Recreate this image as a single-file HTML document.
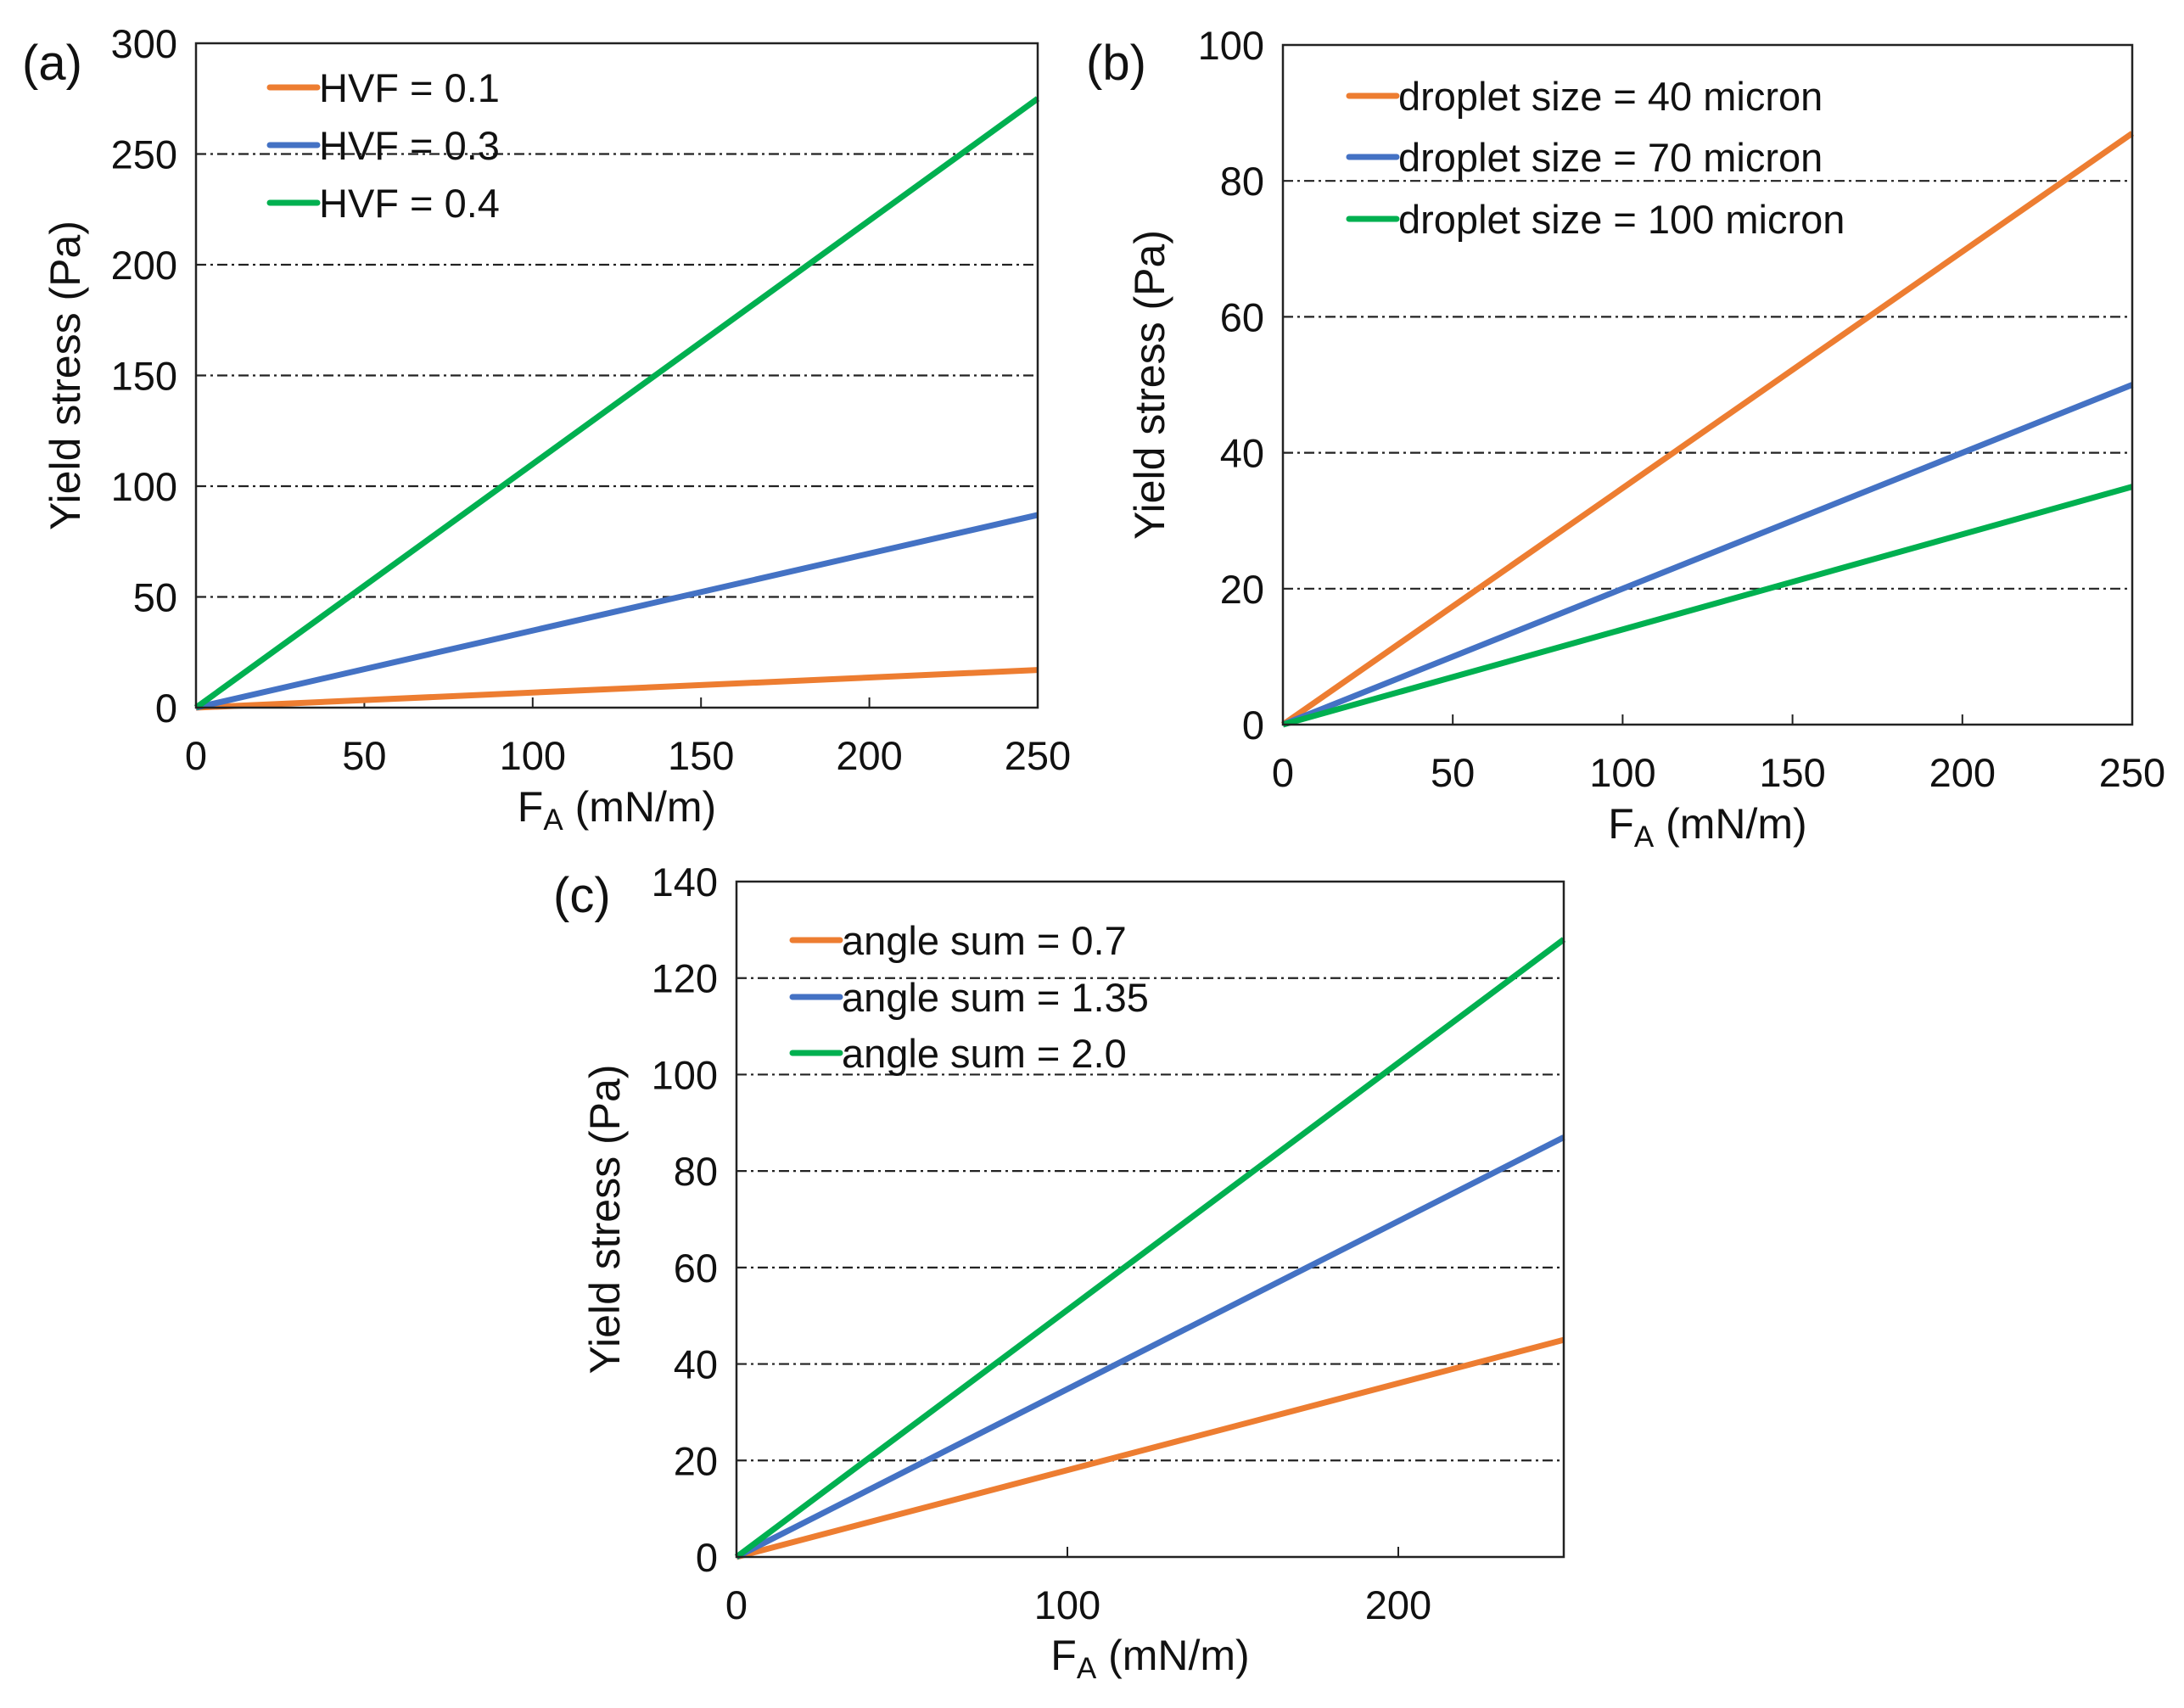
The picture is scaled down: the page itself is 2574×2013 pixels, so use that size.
<!DOCTYPE html>
<html><head><meta charset="utf-8"><style>
html,body{margin:0;padding:0;background:#fff;}
svg{display:block;font-family:"Liberation Sans",Arial,sans-serif;}
</style></head><body>
<svg id="fig" width="2574" height="2013" viewBox="0 0 2574 2013" xmlns="http://www.w3.org/2000/svg"></svg>
<script>
const NS="http://www.w3.org/2000/svg";
const svg=document.getElementById('fig');
const colors=["#ED7D31","#4472C4","#00B050"];

// Panel (a)
const aXRange=[0,250];
const aYTicks=[0,50,100,150,200,250,300];
const aXTicks=[0,50,100,150,200,250];
const aLegend=["HVF = 0.1","HVF = 0.3","HVF = 0.4"];
const aEnds=[17,87,275];
// Panel (b)
const bXRange=[0,250];
const bYTicks=[0,20,40,60,80,100];
const bXTicks=[0,50,100,150,200,250];
const bLegend=["droplet size = 40 micron","droplet size = 70 micron","droplet size = 100 micron"];
const bEnds=[87,50,35];
// Panel (c)
const cXRange=[0,250];
const cYTicks=[0,20,40,60,80,100,120,140];
const cXTicks=[0,100,200];
const cLegend=["angle sum = 0.7","angle sum = 1.35","angle sum = 2.0"];
const cEnds=[45,87,128];

function mk(tag,attrs,parent){const e=document.createElementNS(NS,tag);for(const k in attrs)e.setAttribute(k,attrs[k]);(parent||svg).appendChild(e);return e;}

function panel(id,box,xr,yt,xt,legend,ends,lab,leg,titles){
  const g=mk('g',{});
  
  
  const ymin=yt[0],ymax=yt[yt.length-1];
  const X=v=>box.l+(v-xr[0])/(xr[1]-xr[0])*(box.r-box.l);
  const Y=v=>box.b-(v-ymin)/(ymax-ymin)*(box.b-box.t);
  yt.forEach(v=>{
    if(v!==ymin&&v!==ymax){
      const gl=mk('line',{x1:box.l,x2:box.r,y1:Y(v),y2:Y(v),stroke:'#222','stroke-width':2.2,'stroke-dasharray':'12 5 3 5'},g);
      
      
    }
    const t=mk('text',{x:box.l-22,y:Y(v)+17,'text-anchor':'end','font-size':47,fill:'#111'},g);
    
    
    t.textContent=v;
  });
  xt.forEach(v=>{
    mk('line',{x1:X(v),x2:X(v),y1:box.b,y2:box.b-12,stroke:'#222','stroke-width':2},g);
    const t=mk('text',{x:X(v),y:box.b+73,'text-anchor':'middle','font-size':47,fill:'#111'},g);
    
    
    t.textContent=v;
  });
  ends.forEach((e,i)=>{
    const ln=mk('line',{x1:X(0),y1:Y(0),x2:X(xr[1]),y2:Y(e),stroke:colors[i],'stroke-width':7},g);
    
    
  });
  const fr=mk('rect',{x:box.l,y:box.t,width:box.r-box.l,height:box.b-box.t,fill:'none',stroke:'#222','stroke-width':2.5},g);
  
  
  legend.forEach((s,i)=>{
    const y=leg.y[i];
    const lg=mk('g',{},g);
    
    
    mk('line',{x1:leg.x,x2:leg.x+56,y1:y,y2:y,stroke:colors[i],'stroke-width':7,'stroke-linecap':'round'},lg);
    const t=mk('text',{x:leg.x+58,y:y+17,'font-size':47,fill:'#111'},lg);
    t.textContent=s;
  });
  const pl=mk('text',{x:lab.x,y:lab.y,'font-size':58,fill:'#111'},g);
  
  
  pl.textContent='('+id+')';
  const yt2=mk('text',{transform:`translate(${titles.yx},${(box.t+box.b)/2}) rotate(-90)`,'text-anchor':'middle','font-size':50,fill:'#111'},g);
  
  
  yt2.textContent='Yield stress (Pa)';
  const xt2=mk('text',{x:(box.l+box.r)/2,y:titles.xy,'text-anchor':'middle','font-size':50,fill:'#111'},g);
  
  
  xt2.innerHTML='F<tspan font-size="35" dy="10">A</tspan><tspan dy="-10"> (mN/m)</tspan>';
}
panel('a',{l:231,r:1223,t:51,b:834},aXRange,aYTicks,aXTicks,aLegend,aEnds,{x:26,y:94},{x:318,y:[103,171,239]},{yx:94,xy:968});
panel('b',{l:1512,r:2513,t:53,b:854},bXRange,bYTicks,bXTicks,bLegend,bEnds,{x:1280,y:94},{x:1590,y:[113,185,258]},{yx:1372,xy:988});
panel('c',{l:868,r:1843,t:1039,b:1835},cXRange,cYTicks,cXTicks,cLegend,cEnds,{x:652,y:1075},{x:934,y:[1108,1175,1241]},{yx:730,xy:1968});
</script>
</body></html>
